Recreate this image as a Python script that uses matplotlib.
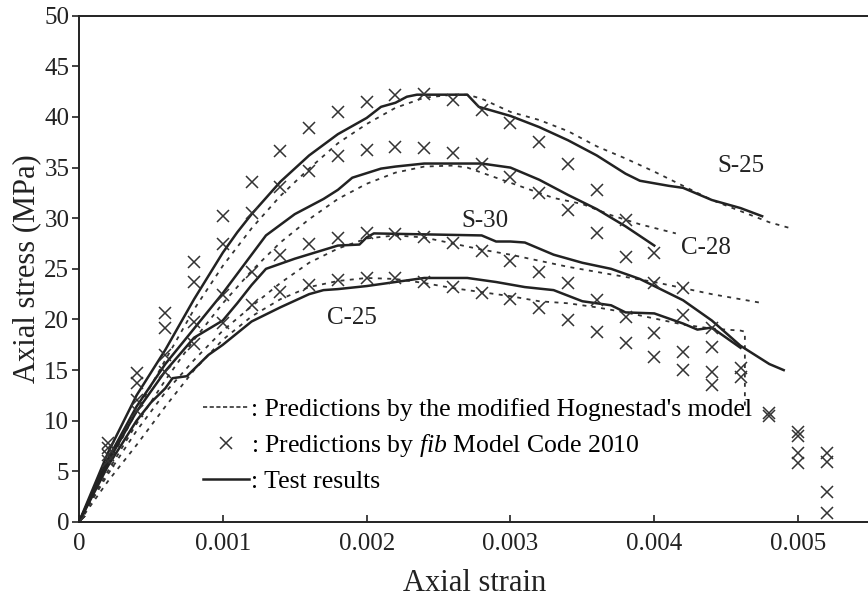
import numpy as np
import matplotlib.pyplot as plt
from matplotlib.lines import Line2D

plt.rcParams['font.family'] = ['Liberation Serif', 'DejaVu Serif']
plt.rcParams['mathtext.fontset'] = 'custom'
plt.rcParams['mathtext.rm'] = 'Liberation Serif'
plt.rcParams['mathtext.it'] = 'Liberation Serif:italic'

# ---- test results (solid) ----
s25_test_x = [0, 0.0002, 0.0004, 0.0006, 0.0008, 0.001, 0.0011, 0.0012, 0.0014, 0.0016, 0.0018,
              0.002, 0.0021, 0.0022, 0.00228, 0.00235, 0.0027, 0.00278, 0.003, 0.0032, 0.0034,
              0.0036, 0.0038, 0.0039, 0.0041, 0.0042, 0.0044, 0.0046, 0.00475]
s25_test_y = [0, 6.8, 12.5, 17.0, 22.0, 26.6, 28.6, 30.4, 33.6, 36.2, 38.3,
              39.9, 41.0, 41.4, 42.0, 42.2, 42.2, 41.0, 40.1, 39.0, 37.7,
              36.2, 34.4, 33.7, 33.2, 33.0, 31.8, 31.0, 30.2]

c28_test_x = [0, 0.0002, 0.0004, 0.0006, 0.0008, 0.001, 0.0011, 0.0012, 0.0013, 0.0015, 0.0017,
              0.0018, 0.0019, 0.0021, 0.0022, 0.0024, 0.0028, 0.003, 0.0032, 0.0034, 0.0036,
              0.0038, 0.004]
c28_test_y = [0, 6.2, 11.4, 15.6, 19.1, 22.6, 24.5, 26.4, 28.3, 30.4, 31.9,
              32.8, 34.0, 34.9, 35.1, 35.4, 35.4, 35.0, 33.8, 32.3, 30.9,
              29.2, 27.3]

s30_test_x = [0, 0.0002, 0.0004, 0.0006, 0.0008, 0.001, 0.0011, 0.0012, 0.0013, 0.0015, 0.0018,
              0.00195, 0.002, 0.00205, 0.0028, 0.0029, 0.003, 0.0031, 0.0033, 0.0035, 0.0037,
              0.0039, 0.0042, 0.0044, 0.0046, 0.0048, 0.0049]
s30_test_y = [0, 5.9, 10.9, 14.9, 18.2, 19.9, 21.6, 23.4, 25.0, 26.0, 27.3,
              27.4, 28.1, 28.5, 28.3, 27.7, 27.7, 27.6, 26.4, 25.6, 25.0,
              24.0, 21.9, 19.9, 17.4, 15.6, 15.0]

c25_test_x = [0, 0.0002, 0.0004, 0.0005, 0.0006, 0.00065, 0.00075, 0.0009, 0.001, 0.0012, 0.0014,
              0.0016, 0.0017, 0.0018, 0.002, 0.0022, 0.0024, 0.0027, 0.0029, 0.0031, 0.0033,
              0.0035, 0.0037, 0.0038, 0.004, 0.0042, 0.0043, 0.0044, 0.0046]
c25_test_y = [0, 5.5, 10.0, 11.8, 13.2, 14.2, 14.4, 16.5, 17.5, 19.8, 21.2,
              22.5, 22.9, 23.0, 23.3, 23.7, 24.1, 24.1, 23.7, 23.2, 22.9,
              21.8, 21.4, 20.7, 20.6, 19.6, 19.0, 19.2, 17.2]

# ---- modified Hognestad model (dashed) ----
s25_hog_x = [0, 0.0002, 0.0004, 0.0006, 0.0008, 0.001, 0.0012, 0.0014, 0.0016, 0.0018, 0.002,
             0.0022, 0.0024, 0.0026, 0.0027, 0.0028, 0.003, 0.0032, 0.0034, 0.0036, 0.0038,
             0.004, 0.0042, 0.0044, 0.0046, 0.0048, 0.00495]
s25_hog_y = [0, 5.6, 10.9, 16.0, 21.0, 25.3, 29.0, 32.2, 34.9, 37.4, 39.3,
             40.9, 41.9, 42.2, 42.2, 41.8, 40.5, 39.7, 38.6, 37.1, 35.9,
             34.6, 33.2, 31.8, 30.7, 29.6, 29.0]

c28_hog_x = [0, 0.0002, 0.0004, 0.0006, 0.0008, 0.001, 0.0012, 0.0014, 0.0016, 0.0018, 0.002,
             0.0022, 0.0024, 0.0026, 0.0027, 0.0029, 0.0031, 0.0033, 0.0035, 0.0037, 0.0039,
             0.00415]
c28_hog_y = [0, 5.0, 9.7, 14.0, 18.0, 21.6, 24.8, 27.6, 29.9, 31.9, 33.4,
             34.5, 35.1, 35.2, 35.0, 34.0, 33.0, 32.0, 31.4, 30.3, 29.4,
             28.5]

s30_hog_x = [0, 0.0002, 0.0004, 0.0006, 0.0008, 0.001, 0.0012, 0.0014, 0.0016, 0.0018, 0.002,
             0.0022, 0.0024, 0.0026, 0.0028, 0.003, 0.0032, 0.0034, 0.0036, 0.0038, 0.004,
             0.0042, 0.0044, 0.0046, 0.00476]
s30_hog_y = [0, 4.7, 9.0, 12.8, 16.0, 18.9, 21.3, 23.6, 25.6, 27.0, 28.0,
             28.3, 28.1, 27.5, 26.9, 26.4, 25.8, 25.2, 24.7, 24.2, 23.7,
             23.1, 22.5, 22.0, 21.6]

c25_hog_x = [0, 0.0002, 0.0004, 0.0006, 0.0008, 0.001, 0.0012, 0.0014, 0.0016, 0.0018, 0.002,
             0.0022, 0.0024, 0.0026, 0.0028, 0.003, 0.0032, 0.0034, 0.0036, 0.0038, 0.004,
             0.0042, 0.0044, 0.0046, 0.00463, 0.00463]
c25_hog_y = [0, 4.0, 7.6, 11.4, 15.0, 18.0, 20.3, 22.0, 23.2, 23.8, 24.1,
             24.0, 23.6, 23.1, 22.7, 22.3, 21.8, 21.6, 21.2, 20.7, 20.1,
             19.5, 19.1, 18.9, 18.8, 11.2]

# ---- fib Model Code 2010 predictions (crosses) ----
fib_x = [0, 0.0002, 0.0004, 0.0006, 0.0008, 0.001, 0.0012, 0.0014, 0.0016, 0.0018, 0.002,
         0.0022, 0.0024, 0.0026, 0.0028, 0.003, 0.0032, 0.0034, 0.0036, 0.0038, 0.004,
         0.0042, 0.0044, 0.0046, 0.0048, 0.005, 0.0052]
nan = np.nan
s25_fib = [0, 7.8, 14.7, 20.6, 25.7, 30.2, 33.6, 36.6, 38.9, 40.5, 41.5,
           42.2, 42.3, 41.7, 40.7, 39.4, 37.5, 35.4, 32.8, 29.8, 26.6,
           23.1, 19.2, 15.2, 10.8, 5.8, 0.9]
c28_fib = [0, 7.3, 13.7, 19.2, 23.7, 27.5, 30.5, 33.1, 34.7, 36.1, 36.7,
           37.0, 36.9, 36.4, 35.4, 34.1, 32.5, 30.8, 28.5, 26.2, 23.6,
           20.4, 17.3, 14.3, 10.5, 6.8, 3.0]
s30_fib = [0, 6.6, 12.0, 16.5, 19.8, 22.4, 24.7, 26.4, 27.5, 28.0, 28.5,
           28.4, 28.1, 27.6, 26.8, 25.8, 24.7, 23.6, 21.9, 20.2, 18.7,
           16.8, 14.8, nan, nan, 8.9, 6.8]
c25_fib = [0, 6.0, 11.0, 14.8, 17.6, 19.7, 21.4, 22.7, 23.4, 23.9, 24.1,
           24.1, 23.7, 23.2, 22.6, 22.0, 21.1, 19.9, 18.8, 17.7, 16.3,
           15.0, 13.5, nan, nan, 8.5, 5.9]

# specimen labels: (text, strain, stress)
labels = [('S-25', 0.0046, 35.2), ('C-28', 0.00436, 27.1),
          ('S-30', 0.00282, 29.7), ('C-25', 0.0019, 20.1)]

ink = '#222222'
dash_style = (0, (2.2, 3.0))

fig = plt.figure(figsize=(8.68, 6.03), dpi=100)
ax = fig.add_axes([79 / 868, 81 / 603, 791 / 868, 506.3 / 603])

for xs, ys in [(s25_hog_x, s25_hog_y), (c28_hog_x, c28_hog_y),
               (s30_hog_x, s30_hog_y), (c25_hog_x, c25_hog_y)]:
    ax.plot(xs, ys, linestyle=dash_style, linewidth=1.3, color='#333333')

for xs, ys in [(s25_test_x, s25_test_y), (c28_test_x, c28_test_y),
               (s30_test_x, s30_test_y), (c25_test_x, c25_test_y)]:
    ax.plot(xs, ys, linestyle='-', linewidth=1.8, color=ink)

for ys in [s25_fib, c28_fib, s30_fib, c25_fib]:
    ax.plot(fib_x, ys, linestyle='none', marker='x', markersize=8,
            markeredgewidth=1.1, color='#333333')

for txt, sx, sy in labels:
    ax.text(sx, sy, txt, fontsize=18, ha='center', va='center', color=ink)

ax.set_xlim(0, 0.0055)
ax.set_ylim(0, 50)
ax.set_xticks([0, 0.001, 0.002, 0.003, 0.004, 0.005])
ax.set_xticklabels(['0', '0.001', '0.002', '0.003', '0.004', '0.005'])
ax.set_yticks(np.arange(0, 51, 5))
ax.tick_params(axis='x', direction='in', length=5, width=1.2, labelsize=18,
               pad=8, colors=ink)
ax.tick_params(axis='y', direction='out', length=5, width=1.2, labelsize=18,
               pad=2, colors=ink)
for side in ['left', 'bottom', 'top']:
    ax.spines[side].set_linewidth(1.4)
    ax.spines[side].set_color(ink)
ax.spines['right'].set_visible(False)

ax.set_xlabel('Axial strain', fontsize=22, color=ink, labelpad=10)
ax.set_ylabel('Axial stress (MPa)', fontsize=22, color=ink, labelpad=2)

handles = [Line2D([], [], linestyle=(0, (2.5, 1.5)), linewidth=1.2, color='#333333'),
           Line2D([], [], linestyle='none', marker='x', markersize=8,
                  markeredgewidth=1.1, color='#333333'),
           Line2D([], [], linestyle='-', linewidth=1.8, color=ink)]
names = [": Predictions by the modified Hognestad's model",
         ': Predictions by $\\it{fib}$ Model Code 2010',
         ': Test results']
ax.legend(handles, names, loc='upper left', bbox_to_anchor=(0.144, 0.265),
          frameon=False, fontsize=18.5, handlelength=1.8, handletextpad=0.05,
          labelspacing=0.42, borderaxespad=0)

fig.savefig('out.png', dpi=100)
